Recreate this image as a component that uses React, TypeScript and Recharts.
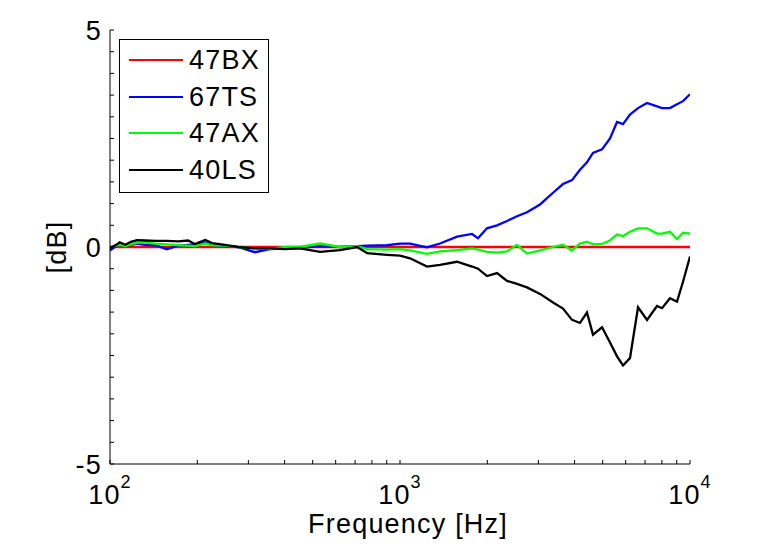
import { LineChart, Line, XAxis, YAxis, Label } from "recharts"

const FONT = "'Liberation Sans', Arial, Helvetica, sans-serif"
const FS = 27
const LS = 1.2

// frequency grid [Hz]
const FREQ = [
  100, 105, 108, 113, 118, 124, 132, 143, 157, 172, 186, 196, 213, 225, 249, 276, 316, 356, 401, 452,
  530, 621, 711, 770, 902, 1000, 1083, 1239, 1374, 1573, 1772, 1858, 1995, 2161, 2339, 2532, 2741,
  3040, 3371, 3649, 3919, 4175, 4413, 4629, 4974, 5299, 5602, 5875, 6210, 6619, 7109, 7696, 8008,
  8531, 9020, 9460, 10000,
]

const BX47 = FREQ.map(() => 0)

const TS67 = [
  -0.08, 0.02, 0.05, 0.03, 0.05, 0.08, 0.05, 0.04, -0.05, 0.03, 0.05, 0.06, 0.1, 0.05, 0.02, 0.0, -0.12, -0.05, -0.03, -0.02,
  0.02, 0.0, 0.02, 0.03, 0.04, 0.08, 0.08, -0.01, 0.08, 0.24, 0.3, 0.2, 0.43, 0.5, 0.6, 0.71, 0.8,
  0.98, 1.25, 1.45, 1.54, 1.78, 1.95, 2.17, 2.25, 2.5, 2.88, 2.83, 3.05, 3.2, 3.32, 3.24, 3.2,
  3.2, 3.29, 3.36, 3.52,
]

const AX47 = [
  0.0, 0.03, 0.05, 0.02, 0.06, 0.1, 0.1, 0.08, 0.06, 0.04, 0.03, 0.02, 0.08, 0.04, 0.03, 0.0, -0.03, -0.05, 0.0, 0.0,
  0.08, 0.0, 0.02, -0.05, -0.06, -0.05, -0.08, -0.16, -0.1, -0.07, -0.03, -0.06, -0.11, -0.13, -0.1, 0.05, -0.15,
  -0.08, 0.0, 0.05, -0.08, 0.08, 0.12, 0.06, 0.07, 0.15, 0.29, 0.25, 0.35, 0.43, 0.43, 0.31, 0.31,
  0.35, 0.18, 0.33, 0.31,
]

const LS40 = [
  -0.03, 0.05, 0.11, 0.05, 0.12, 0.16, 0.15, 0.14, 0.14, 0.13, 0.15, 0.07, 0.16, 0.09, 0.05, 0.0, -0.03, -0.03, -0.05, -0.03,
  -0.11, -0.07, 0.0, -0.14, -0.18, -0.2, -0.26, -0.45, -0.41, -0.34, -0.45, -0.5, -0.67, -0.6, -0.78, -0.85, -0.93,
  -1.08, -1.28, -1.42, -1.68, -1.75, -1.51, -2.02, -1.85, -2.2, -2.52, -2.73, -2.56, -1.39, -1.68, -1.36, -1.41,
  -1.18, -1.26, -0.8, -0.22,
]

const SERIES = [
  { key: "bx47", label: "47BX", color: "#ff0000", values: BX47 },
  { key: "ts67", label: "67TS", color: "#0000ff", values: TS67 },
  { key: "ax47", label: "47AX", color: "#00ff00", values: AX47 },
  { key: "ls40", label: "40LS", color: "#000000", values: LS40 },
]

const X_TICKS = [100, 200, 300, 400, 500, 600, 700, 800, 900, 1000, 2000, 3000, 4000, 5000, 6000, 7000, 8000, 9000, 10000]
const Y_TICKS = [-5, -4.5, -4, -3.5, -3, -2.5, -2, -1.5, -1, -0.5, 0, 0.5, 1, 1.5, 2, 2.5, 3, 3.5, 4, 4.5, 5]
const Y_LABELS = [-5, 0, 5]

const data = FREQ.map((f, i) => {
  const row: Record<string, number> = { f }
  SERIES.forEach(s => { row[s.key] = s.values[i] })
  return row
})

function XTick({ x, y, payload }: any) {
  const v = payload.value
  const exp = Math.round(Math.log10(v))
  const major = Math.abs(Math.pow(10, exp) - v) < 1e-6
  return (
    <g>
      <line x1={x} y1={y} x2={x} y2={y - 4} stroke="#000" strokeWidth={1} />
      {major && (
        <text x={x} y={y + 40} textAnchor="middle" fontFamily={FONT} fontSize={FS} letterSpacing={LS} fill="#000">
          <tspan>10</tspan>
          <tspan dy={-16} fontSize={18}>{exp}</tspan>
        </text>
      )}
    </g>
  )
}

function YTick({ x, y, payload }: any) {
  const v = payload.value
  return (
    <g>
      <line x1={x} y1={y} x2={x + 4} y2={y} stroke="#000" strokeWidth={1} />
      {Y_LABELS.includes(v) && (
        <text x={x - 8} y={y + 10} textAnchor="end" fontFamily={FONT} fontSize={FS} letterSpacing={LS} fill="#000">
          {v}
        </text>
      )}
    </g>
  )
}

function LegendBox() {
  return (
    <div style={{ position: "absolute", left: 119, top: 39, width: 150, height: 154, border: "1px solid #000", background: "#fff", boxSizing: "border-box", fontFamily: FONT, fontSize: FS, letterSpacing: LS }}>
      {SERIES.map((s, i) => (
        <div key={s.key} style={{ position: "absolute", left: 9, top: 20 + i * 36.7 - 15, height: 30, display: "flex", alignItems: "center", whiteSpace: "nowrap" }}>
          <span style={{ display: "inline-block", width: 54, height: 2, background: s.color }} />
          <span style={{ marginLeft: 6, color: "#000", lineHeight: "30px" }}>{s.label}</span>
        </div>
      ))}
    </div>
  )
}

export default function App() {
  return (
    <div style={{ position: "absolute", left: 0, top: 0, width: 767, height: 547, background: "#fff" }}>
      <LineChart width={767} height={547} data={data} margin={{ top: 30, right: 77, bottom: 0, left: 0 }}>
        <XAxis
          dataKey="f" type="number" scale="log" domain={[100, 10000]} ticks={X_TICKS}
          height={83} tickSize={0} tickMargin={0} tick={<XTick />} interval={0}
          axisLine={{ stroke: "#000", strokeWidth: 1 }} allowDataOverflow
        >
          <Label
            content={({ viewBox }: any) => (
              <text x={viewBox.x + viewBox.width / 2 + 8} y={viewBox.y + 69} textAnchor="middle" fontFamily={FONT} fontSize={FS} letterSpacing={LS} fill="#000">
                Frequency [Hz]
              </text>
            )}
          />
        </XAxis>
        <YAxis
          type="number" domain={[-5, 5]} ticks={Y_TICKS} width={110} tickSize={0} tickMargin={0}
          tick={<YTick />} interval={0} axisLine={{ stroke: "#000", strokeWidth: 1 }} allowDataOverflow
        >
          <Label
            content={({ viewBox }: any) => {
              const cx = 57
              const cy = viewBox.y + viewBox.height / 2
              return (
                <text x={cx} y={cy} transform={`rotate(-90 ${cx} ${cy})`} textAnchor="middle" dominantBaseline="central" fontFamily={FONT} fontSize={FS} letterSpacing={LS} fill="#000">
                  [dB]
                </text>
              )
            }}
          />
        </YAxis>
        {SERIES.map(s => (
          <Line
            key={s.key}
            dataKey={s.key}
            name={s.label}
            type="linear"
            stroke={s.color}
            strokeWidth={2.3}
            dot={false}
            activeDot={false}
            isAnimationActive={false}
          />
        ))}
      </LineChart>
      <LegendBox />
    </div>
  )
}
